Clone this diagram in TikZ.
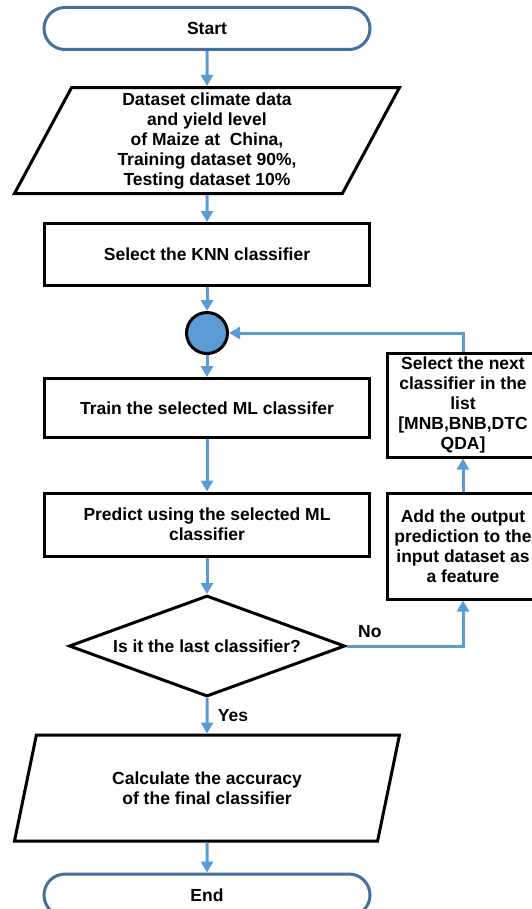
\documentclass[tikz,border=0pt]{standalone}
\usepackage{fontspec}
\setmainfont{Liberation Sans}
\usetikzlibrary{shapes.geometric, arrows.meta, calc, positioning}
\definecolor{flowblue}{HTML}{5B9BD5}
\definecolor{termblue}{HTML}{41719C}
\tikzstyle{startstop} = [rectangle, rounded corners=21pt, line width=3pt, minimum width=326pt, minimum height=42pt, text centered, draw=termblue]
\tikzstyle{io} = [trapezium, trapezium stretches body, line width=3pt, trapezium left angle=61, trapezium right angle=119, minimum width=385pt, minimum height=106pt, align=center, draw=black]
\tikzstyle{block} = [rectangle, line width=3pt, minimum width=325pt, minimum height=58.5pt, align=center, draw=black]
\tikzstyle{sideblock} = [rectangle, line width=3pt, minimum width=152pt, minimum height=104pt, inner sep=2pt, align=center, draw=black]
\tikzstyle{decision} = [diamond, line width=3pt, aspect=2.7, inner sep=0pt, minimum width=276pt, minimum height=101pt, draw=black]
\tikzstyle{junction} = [circle, line width=3pt, minimum size=41pt, inner sep=0pt, draw=black, fill=flowblue]
\tikzstyle{arrow} = [line width=3pt, draw=flowblue, -{Triangle[width=12pt,length=11pt]}]

\begin{document}
\begin{tikzpicture}[x=1pt, y=1pt, font=\fontsize{17.5}{20}\selectfont\bfseries]
	\useasboundingbox (0,0) rectangle (531,-909);
	\node (Start) [startstop] at (207,-28.5) {Start};
	\node (Dataset) [io, below = 35pt of Start] {Dataset climate data\\and yield level\\of Maize at~ China,\\Training dataset 90\%,\\Testing dataset 10\%};
	\node (SelectKNN) [block, minimum height=62pt, below = 27pt of Dataset] {Select the KNN classifier};
	\node (Junction) [junction, below = 24pt of SelectKNN] {};
	\node (Train) [block, below = 22pt of Junction] {Train the selected ML classifer};
	\node (Predict) [block, minimum height=63pt, below = 53pt of Train] {Predict using the selected ML\\classifier};
	\node (LastCheck) [decision, below = 36.5pt of Predict] {Is it the last classifier?};
	\node (Accuracy) [io, below = 35.5pt of LastCheck] {Calculate the accuracy\\of the final classifier};
	\node (End) [startstop, below = 30pt of Accuracy] {End};
	\node (AddOutput) [sideblock, anchor=north west, minimum height=106pt] at ($(Predict.north east)+(14.5,0)$) {Add the output\\prediction to the\\input dataset as\\a feature};
	\node (SelectNext) [sideblock, above = 33pt of AddOutput] {Select the next\\classifier in the\\list\\{[MNB,BNB,DTC}\\QDA]};
	\draw [arrow] (Start) -- (Dataset);
	\draw [arrow] (Dataset) -- (SelectKNN);
	\draw [arrow] (SelectKNN) -- (Junction);
	\draw [arrow] (Junction) -- (Train);
	\draw [arrow] (Train) -- (Predict);
	\draw [arrow] (Predict) -- (LastCheck);
	\draw [arrow] (LastCheck) -- node[right = 6pt]{Yes} (Accuracy);
	\draw [arrow] (Accuracy) -- (End);
	\draw [arrow] (LastCheck.east) -| node[pos=0.1, above = 4pt]{No} (AddOutput.south);
	\draw [arrow] (AddOutput) -- (SelectNext);
	\draw [arrow] (SelectNext.north) |- (Junction.east);
\end{tikzpicture}
\end{document}
